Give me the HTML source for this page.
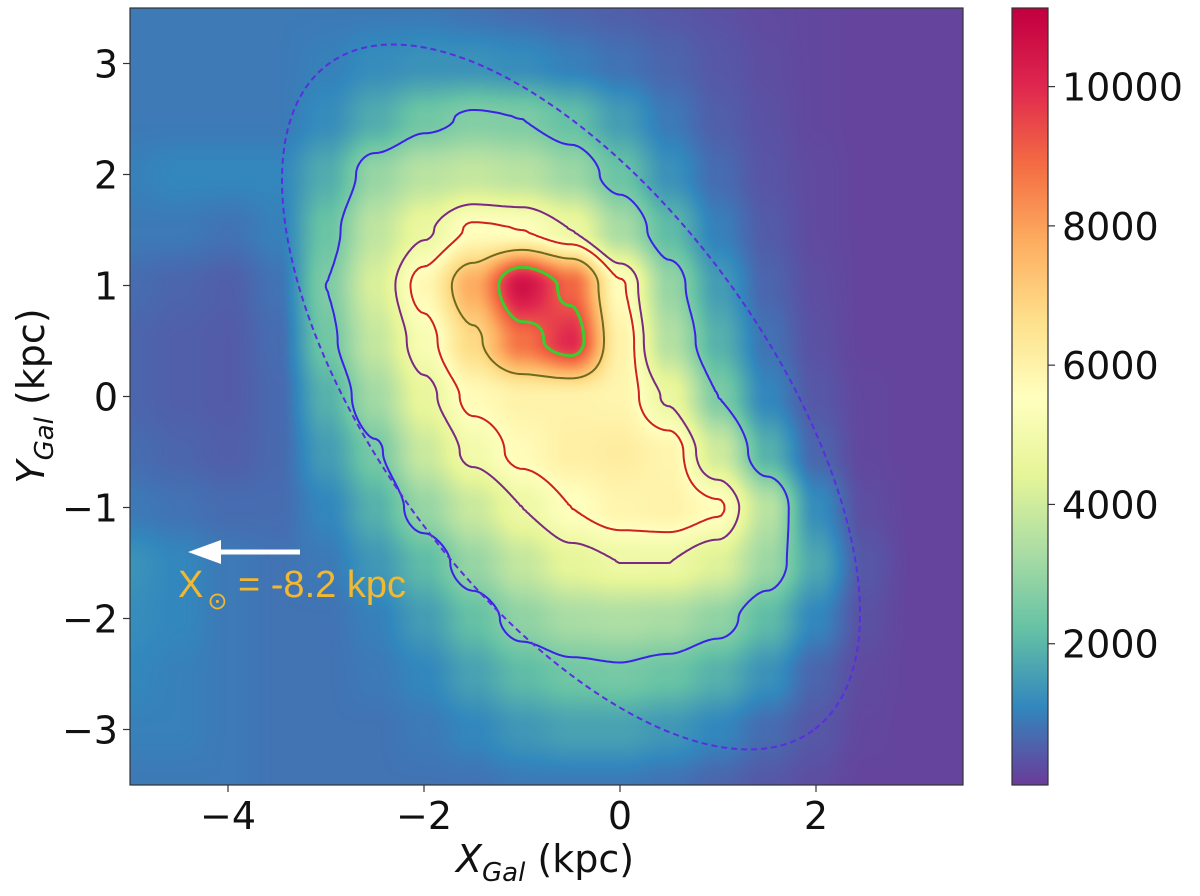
<!DOCTYPE html>
<html><head><meta charset="utf-8"><style>
body{margin:0;background:#fff;width:1200px;height:896px;overflow:hidden;font-family:"DejaVu Sans","Liberation Sans",sans-serif}
#wrap{position:relative;width:1200px;height:896px}
canvas{position:absolute}
svg{position:absolute;left:0;top:0}
</style></head><body>
<div id="wrap">
<canvas id="heat" width="833" height="777" style="left:130px;top:8px"></canvas>
<canvas id="cbar" width="36" height="777" style="left:1012px;top:8px"></canvas>
<svg id="ov" width="1200" height="896"></svg>
</div>
<script>
// ---- data (grid of density values) ----
const gridX = [-5,-4.5,-4,-3.5,-3,-2.5,-2,-1.5,-1,-0.5,0,0.5,1,1.5,2,2.5,3,3.5];
const gridY = [3.5,3,2.5,2,1.5,1,0.5,0,-0.5,-1,-1.5,-2,-2.5,-3,-3.5];
const density = [
[900,900,900,900,900,900,900,800,700,600,500,400,300,200,150,100,100,100],
[900,900,900,900,1000,1200,1300,1300,1200,1000,800,600,400,250,150,100,100,100],
[900,900,900,900,1200,1800,2400,2700,2600,2200,1500,900,500,300,150,100,100,100],
[1000,1100,1100,1100,1800,3000,3600,3800,3600,3100,2300,1300,700,350,200,100,100,100],
[900,900,800,1000,2300,3700,4700,5600,5500,4800,3300,2100,1000,450,200,100,100,100],
[700,600,500,800,2600,4200,5800,7800,10600,9000,5600,3000,1500,600,250,100,100,100],
[600,500,450,700,2400,3800,5200,6800,8800,10000,6000,3500,1900,800,300,100,100,100],
[600,500,450,650,1900,3200,4600,5700,6000,6000,5900,4700,2600,1100,400,150,100,100],
[700,600,500,650,1500,2500,3900,5000,5700,6100,6200,5900,4000,1900,600,150,100,100],
[900,800,700,700,1100,1900,3000,3900,4800,5500,5900,6000,5600,3600,1200,250,100,100],
[1300,1100,900,800,900,1400,2100,3000,3800,4500,4800,4800,4300,3100,1700,400,100,100],
[1200,1100,900,800,800,1000,1500,2200,2900,3300,3400,3300,2900,2100,1100,300,100,100],
[1100,1000,900,800,800,900,1100,1600,2100,2400,2500,2300,1900,1300,600,200,100,100],
[1000,1000,900,800,800,800,900,1100,1400,1600,1600,1400,1100,700,400,150,100,100],
[900,900,900,800,800,800,800,800,900,900,900,800,600,400,250,100,100,100]];
const contourLevels = [2600, 4800, 5500, 7000, 9300];
const contourColors = ['#3a22e6','#7a2a80','#d02020','#6e6a1e','#3ccc30'];
const contourWidths = [2,2,2,2,3];
const xTicks = [-4,-2,0,2];
const yTicks = [-3,-2,-1,0,1,2,3];
const cbarTicks = [2000,4000,6000,8000,10000];
const vmax = 11100, vmin = 0;

// ---- scales ----
const X0=130, X1=963, Y0=8, Y1=785;
const xs = x => X0 + (x - (-5)) / 8.5 * (X1 - X0);
const ys = y => Y0 + (3.5 - y) / 7 * (Y1 - Y0);
const stops = ['#6a3d9a','#3288bd','#66c2a5','#abdda4','#e6f598','#ffffbf','#fee08b','#fdae61','#f46d43','#e0284f','#c20040'].map(h=>[parseInt(h.slice(1,3),16),parseInt(h.slice(3,5),16),parseInt(h.slice(5,7),16)]);
function cmap(v){let t=Math.max(0,Math.min(1,(v-vmin)/(vmax-vmin)))*(stops.length-1);let i=Math.min(stops.length-2,Math.floor(t)),f=t-i;return stops[i].map((c,k)=>Math.round(c+(stops[i+1][k]-c)*f));}
function val(px,py){
  const x=-5+(px-X0)/(X1-X0)*8.5, y=3.5-(py-Y0)/(Y1-Y0)*7;
  let gx=(x-gridX[0])/(gridX[1]-gridX[0]), gy=(gridY[0]-y)/(gridY[0]-gridY[1]);
  gx=Math.max(0,Math.min(gridX.length-1.0001,gx)); gy=Math.max(0,Math.min(gridY.length-1.0001,gy));
  const i=Math.floor(gx),j=Math.floor(gy),fx=gx-i,fy=gy-j;
  const a=density[j][i],b=density[j][i+1],c=density[j+1][i],d=density[j+1][i+1];
  const s=t=>t*t*(3-2*t); const sx=s(fx), sy=s(fy);
  return (a*(1-sx)+b*sx)*(1-sy)+(c*(1-sx)+d*sx)*sy;
}
const hc=document.getElementById('heat').getContext('2d');
const W=833,H=777,img=hc.createImageData(W,H);
for(let py=0;py<H;py++)for(let px=0;px<W;px++){const c=cmap(val(px+X0,py+Y0));const o=(py*W+px)*4;img.data[o]=c[0];img.data[o+1]=c[1];img.data[o+2]=c[2];img.data[o+3]=255;}
hc.putImageData(img,0,0);
const cc=document.getElementById('cbar').getContext('2d');
for(let py=0;py<777;py++){const v=vmax-(py-2)/(783-10)*vmax;const c=cmap(v);cc.fillStyle=`rgb(${c[0]},${c[1]},${c[2]})`;cc.fillRect(0,py,36,1);}

const NS='http://www.w3.org/2000/svg', ov=document.getElementById('ov');
function mk(tag,attrs,parent){const e=document.createElementNS(NS,tag);for(const k in attrs)e.setAttribute(k,attrs[k]);(parent||ov).appendChild(e);return e;}
const step=3;
contourLevels.forEach((L,li)=>{
  let d='';
  for(let py=Y0;py<Y1-step;py+=step)for(let px=X0;px<X1-step;px+=step){
    const v=[val(px,py),val(px+step,py),val(px+step,py+step),val(px,py+step)];
    const P=[[px,py],[px+step,py],[px+step,py+step],[px,py+step]];
    const pts=[];
    for(let e=0;e<4;e++){const a=v[e],b=v[(e+1)%4];if((a<L)!==(b<L)){const t=(L-a)/(b-a);const A=P[e],B=P[(e+1)%4];pts.push([A[0]+(B[0]-A[0])*t,A[1]+(B[1]-A[1])*t]);}}
    for(let k=0;k+1<pts.length;k+=2)d+=`M${pts[k][0].toFixed(1)} ${pts[k][1].toFixed(1)}L${pts[k+1][0].toFixed(1)} ${pts[k+1][1].toFixed(1)}`;
  }
  const p=mk('path',{d,fill:'none',stroke:contourColors[li],'stroke-width':contourWidths[li],'stroke-linecap':'round'});
  
  
});
const el=mk('ellipse',{cx:571,cy:397,rx:412,ry:195,transform:'rotate(54 571 397)',fill:'none',stroke:'#5a2ee0','stroke-width':2,'stroke-dasharray':'6 4'});


const fr=mk('rect',{x:X0,y:Y0,width:X1-X0,height:Y1-Y0,fill:'none',stroke:'#333','stroke-width':1.2});


const cf=mk('rect',{x:1012,y:8,width:36,height:777,fill:'none',stroke:'#333','stroke-width':1.2});


xTicks.forEach(t=>{const x=xs(t);
  const l=mk('line',{x1:x,x2:x,y1:Y1,y2:Y1+7,stroke:'#333','stroke-width':1.2});
  
  
  const tx=mk('text',{x:x,y:Y1+44,'text-anchor':'middle','font-size':38,fill:'#111'});tx.textContent=(t<0?'\u2212'+(-t):t);
  
  });
yTicks.forEach(t=>{const y=ys(t);
  const l=mk('line',{x1:X0-7,x2:X0,y1:y,y2:y,stroke:'#333','stroke-width':1.2});
  
  
  const tx=mk('text',{x:X0-12,y:y+14,'text-anchor':'end','font-size':38,fill:'#111'});tx.textContent=(t<0?'\u2212'+(-t):t);
  
  });
cbarTicks.forEach(t=>{const y=783-(t/vmax)*(783-10);
  const l=mk('line',{x1:1048,x2:1055,y1:y,y2:y,stroke:'#333','stroke-width':1.2});
  
  
  const tx=mk('text',{x:1062,y:y+14,'font-size':38,fill:'#111'});tx.textContent=t;
  
  });
</script>
<svg width="1200" height="896" style="position:absolute;left:0;top:0;pointer-events:none">
<text x="545" y="872" text-anchor="middle" font-size="38" fill="#111"><tspan font-style="italic">X</tspan><tspan font-size="26" dy="9" font-style="italic">Gal</tspan><tspan dy="-9"> (kpc)</tspan></text>
<text transform="translate(44 396) rotate(-90)" text-anchor="middle" font-size="38" fill="#111"><tspan font-style="italic">Y</tspan><tspan font-size="26" dy="9" font-style="italic">Gal</tspan><tspan dy="-9"> (kpc)</tspan></text>
<line x1="300" y1="552" x2="210" y2="552" stroke="#fff" stroke-width="5"/>
<polygon points="188,552 221,540 221,564" fill="#fff"/>
<text x="178" y="597" font-family="Liberation Sans, sans-serif" font-size="38" fill="#f2b830">X<tspan font-size="24" dx="4" dy="12">⊙</tspan><tspan dy="-12"> = -8.2 kpc</tspan></text>
</svg>
</body></html>
